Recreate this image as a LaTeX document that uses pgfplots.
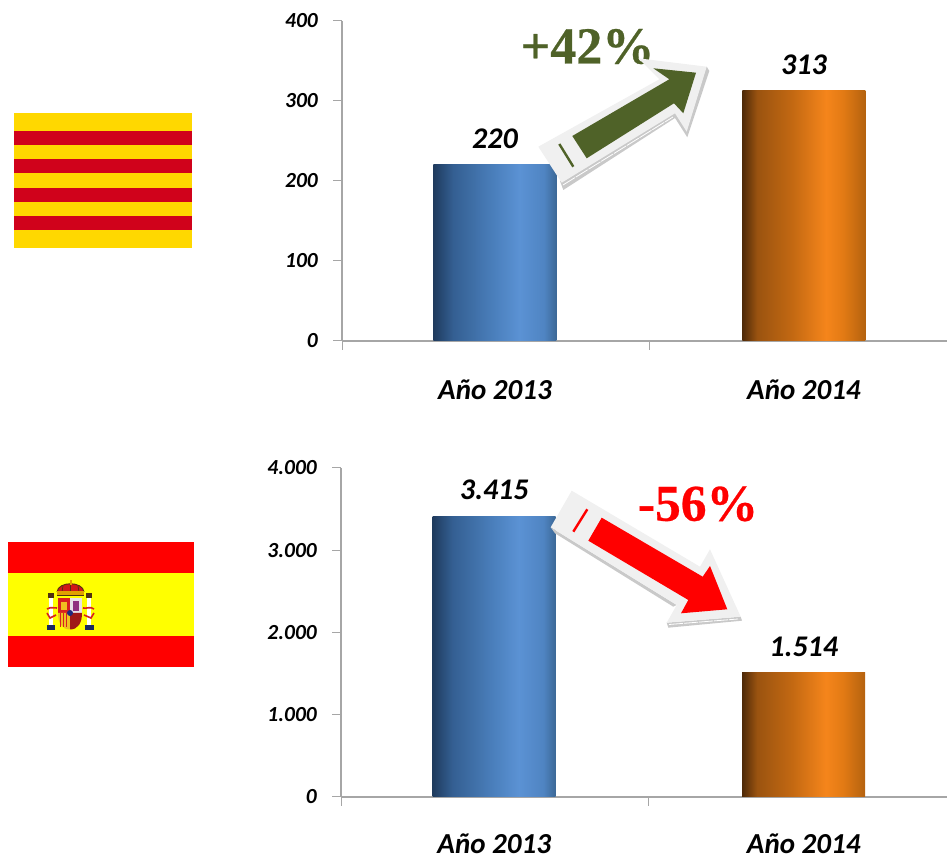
\documentclass[border=0pt]{standalone}
\usepackage{fontspec}
\setmainfont{Carlito}
\newfontfamily\timesf[BoldFeatures={FakeBold=0.5}]{Liberation Serif}
\usepackage{pgfplots}
\pgfplotsset{compat=1.18}
\definecolor{axgray}{HTML}{A6A6A6}
\definecolor{arrowgreen}{HTML}{4F6228}
\definecolor{flagyellow}{HTML}{FFD800}
\definecolor{pureyellow}{HTML}{FFFF00}
\definecolor{purered}{HTML}{FF0000}
\definecolor{catred}{HTML}{D0021B}
\definecolor{panel}{HTML}{F0F0F0}
\definecolor{panelshadow}{HTML}{C9C9C9}
\definecolor{bluea}{HTML}{1F3B5E}
\definecolor{blueb}{HTML}{345F92}
\definecolor{bluec}{HTML}{4B80BD}
\definecolor{blued}{HTML}{5B92D4}
\definecolor{bluee}{HTML}{4F84C2}
\definecolor{bluef}{HTML}{3C6896}
\definecolor{orangea}{HTML}{4F2A08}
\definecolor{orangeb}{HTML}{9A5310}
\definecolor{orangec}{HTML}{C26812}
\definecolor{oranged}{HTML}{F5851B}
\definecolor{orangee}{HTML}{E27A14}
\definecolor{orangef}{HTML}{B4620F}
\definecolor{crownred}{HTML}{D01818}
\definecolor{crowngold}{HTML}{E0A000}
\definecolor{crowndark}{HTML}{503010}
\definecolor{shieldred}{HTML}{D82020}
\definecolor{shieldgold}{HTML}{F0C020}
\definecolor{shieldpale}{HTML}{E8E0E8}
\definecolor{lionpurple}{HTML}{903080}
\definecolor{shielddark}{HTML}{A01818}
\definecolor{ovalblue}{HTML}{202880}
\definecolor{pillarbase}{HTML}{1A2A60}
\pgfdeclarehorizontalshading{bluebar}{100bp}{color(0bp)=(bluea);
 color(25bp)=(bluea); color(33bp)=(blueb); color(50bp)=(bluec); color(60bp)=(blued); color(70bp)=(bluee); color(75bp)=(bluef); color(100bp)=(bluef)}
\pgfdeclarehorizontalshading{orangebar}{100bp}{color(0bp)=(orangea);
 color(25bp)=(orangea); color(31bp)=(orangeb); color(45bp)=(orangec); color(59bp)=(oranged); color(66bp)=(orangee); color(75bp)=(orangef); color(100bp)=(orangef)}
\pgfplotsset{
  panelaxis/.style={
    scale only axis,
    anchor=south west,
    axis lines=left,
    axis line style={-,axgray,line width=1.2pt},
    tick style={axgray,line width=1pt},
    tick align=outside,
    major tick length=9pt,
    clip=false,
    ytick pos=left,
    xmin=-0.495,xmax=1.463,
    xtick={-0.495,0.5},
    xticklabels={,},
    extra x ticks={0,1},
    extra x tick labels={Año 2013,Año 2014},
    extra x tick style={major tick length=0pt,tick style={draw=none},
      xticklabel style={font=\fontsize{29}{29}\selectfont\bfseries\itshape,black,yshift=-39pt,inner sep=0pt}},
    yticklabel style={font=\fontsize{21.5}{22}\selectfont\bfseries\itshape,black,inner sep=0pt,xshift=-15pt},
    /pgf/number format/assume math mode=true,
    /pgf/number format/1000 sep={.},
    scaled y ticks=false,
    nodes near coords,
    every node near coord/.style={font=\fontsize{30}{30}\selectfont\bfseries\itshape,black,anchor=south,inner sep=0pt,yshift=16pt,/pgf/number format/1000 sep={.}},
  },
  bluestyle/.style={ybar,bar shift=0pt,bar width=123pt,draw=none,shade,shading=bluebar},
  orangestyle/.style={ybar,bar shift=0pt,bar width=123pt,draw=none,shade,shading=orangebar},
}
\begin{document}
\begin{tikzpicture}[x=1pt,y=1pt]
\path[use as bounding box] (0,0) rectangle (947,858);

% Top panel
\begin{axis}[panelaxis,at={(342pt,517pt)},width=605pt,height=320pt,
  ymin=0,ymax=400,ytick={0,100,200,300,400}]
\addplot[bluestyle] coordinates {(0,220)};
\addplot[orangestyle] coordinates {(1,313)};
\end{axis}

% Bottom panel
\begin{axis}[panelaxis,at={(341pt,61pt)},width=606pt,height=329pt,
  ymin=0,ymax=4000,ytick={0,1000,2000,3000,4000},
  extra x tick style={xticklabel style={yshift=2pt}}]
\addplot[bluestyle] coordinates {(0,3415)};
\addplot[orangestyle] coordinates {(1,1514)};
\end{axis}

\begin{scope}[yshift=858pt,y=-1pt,x=1pt]
% Catalan flag
\fill[flagyellow] (13.5,112.7) rectangle (192.3,247.7);
\foreach \a in {130.7,159.3,188,215.7}{\fill[catred] (13.5,\a) rectangle (192.3,\a+14);}
% Spanish flag
\fill[purered] (8,542) rectangle (194,667);
\fill[pureyellow] (8,573.3) rectangle (194,636);
% Coat of arms: crown
\fill[crownred] (57,592) .. controls (58,581) and (83,581) .. (84,592) -- cycle;
\draw[crowndark,line width=.9pt] (57,592) .. controls (58,581) and (83,581) .. (84,592);
\draw[crowndark,line width=.7pt] (70.5,585) -- (70.5,592) (63,586) -- (62,592) (78,586) -- (79,592);
\fill[crowngold] (57,591.5) rectangle (84,595.5);
\draw[crowndark,line width=.7pt] (57,595.5) -- (84,595.5);
\fill[crowngold] (69.5,580) rectangle (71.5,585);
% shield
\fill[shieldred] (58,598) rectangle (70,613);
\fill[shieldgold] (61,602) rectangle (67,610);
\fill[shieldpale] (70,598) rectangle (82,613);
\fill[lionpurple] (73,601) -- (79,601) -- (79,611) -- (73,611) -- cycle;
\fill[shieldgold] (58,613) -- (70,613) -- (70,629.5) .. controls (62,629.5) and (58,623) .. (58,613);
\foreach \s in {60.5,63.5,66.5}{\draw[shieldred,line width=1pt] (\s,613) -- (\s,627);}
\fill[shielddark] (70,613) -- (82,613) .. controls (82,623) and (78,629.5) .. (70,629.5) -- cycle;
\fill[ovalblue] (70,613) circle (3);
% pillars
\fill[white] (49,598) rectangle (53,625);
\fill[white] (87,598) rectangle (91,625);
\fill[crowndark] (48,593) rectangle (54,598);
\fill[crowndark] (86,593) rectangle (92,598);
\fill[pillarbase] (47,625.5) rectangle (55,630.5);
\fill[pillarbase] (85,625.5) rectangle (94,630.5);
\draw[shieldred,line width=1.6pt] (47,609) .. controls (52,606) and (54,609) .. (57,608);
\draw[shieldred,line width=1.6pt] (94,609) .. controls (90,606) and (87,609) .. (83,608);
\draw[shieldred,line width=1.6pt] (47,613) -- (50,618) -- (56,615);
\draw[shieldred,line width=1.6pt] (94,613) -- (91,618) -- (84,615);

% Percent texts
\node[anchor=base,inner sep=0pt,text=arrowgreen] at (587.5,63.5) {\timesf\fontsize{52}{52}\selectfont\bfseries +42\%};
\node[anchor=base,inner sep=0pt,text=purered] at (698,520.7) {\timesf\fontsize{51.5}{52}\selectfont\bfseries -56\%};

% Green arrow
\fill[panelshadow] (706.7,66.7) -- (709.3,71) -- (687.3,137.3) -- (675,118) -- (563.3,190) -- (560,181) -- cycle;
\draw[white,line width=.8pt,dash pattern=on 14pt off 1pt] (563,185) -- (673,117);
\fill[panel] (538.3,146.7) -- (659.3,79.3) -- (638.3,58.3) -- (706.7,66.7) -- (686.7,131.7) -- (675,113.3) -- (561.7,182.7) -- cycle;
\fill[arrowgreen] (572.3,136) -- (669.3,79.3) -- (653.3,68.3) -- (696,72.7) -- (683.3,113.3) -- (674,103.3) -- (586.7,158.3) -- cycle;
\draw[arrowgreen,line width=2.4pt] (559.3,144) -- (573.3,166.7);

% Red arrow
\fill[panelshadow] (550.7,527.3) -- (555,533.3) -- (673.3,606.7) -- (676.7,605) -- cycle;
\fill[panelshadow] (666.7,622.7) -- (740.7,616.7) -- (742,620.7) -- (668.3,627.7) -- cycle;
\draw[white,line width=.8pt,dash pattern=on 14pt off 1pt] (669,624.5) -- (738,619);
\fill[panel] (571.7,490.7) -- (700,566.7) -- (710,549.3) -- (740.7,616.7) -- (666.7,622.7) -- (676.7,605) -- (550.7,527.3) -- cycle;
\fill[purered] (601.7,517.7) -- (702.7,576.7) -- (710,566) -- (727.3,609.3) -- (681,613.3) -- (688.3,600) -- (588.3,540.7) -- cycle;
\draw[purered,line width=2.4pt] (587.3,509.3) -- (573.3,531.7);
\end{scope}
\end{tikzpicture}
\end{document}
